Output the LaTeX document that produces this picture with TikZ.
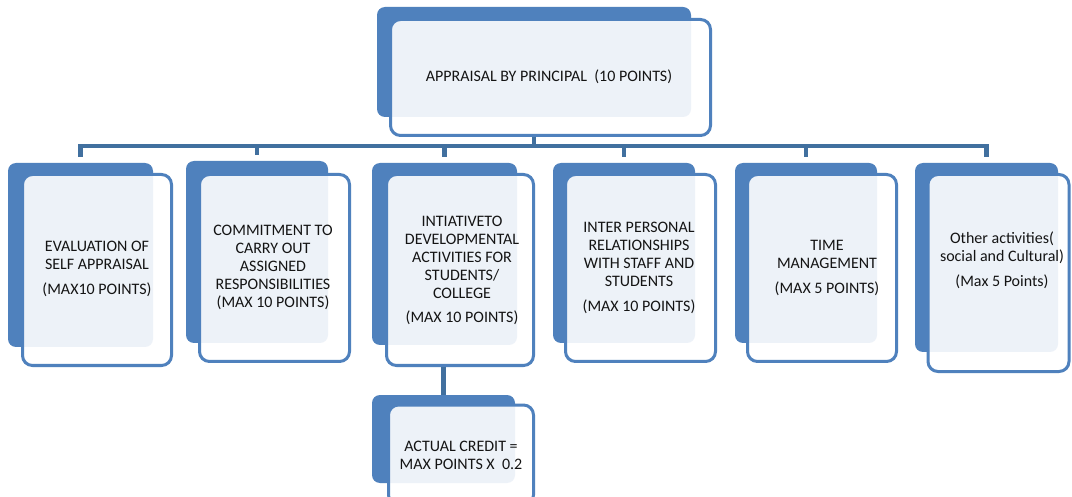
\documentclass[tikz,border=0pt]{standalone}
\usepackage{fontspec}
\setmainfont{Carlito}
\definecolor{boxblue}{HTML}{4F81BD}
\definecolor{connblue}{HTML}{41709F}
\tikzset{
  backbox/.style={fill=boxblue, draw=none, rounded corners=8pt, inner sep=0pt},
  frontbox/.style={draw=boxblue, line width=3pt, fill=white, fill opacity=0.9, rounded corners=10pt, inner sep=0pt},
  lbl/.style={align=center, font=\fontsize{16}{18}\selectfont, text=black!92, inner sep=0pt},
  conn/.style={draw=connblue, line width=4.5pt}
}
\begin{document}
\begin{tikzpicture}[x=1pt,y=-1pt]
\clip (0,0) rectangle (1072,497);
\fill[white] (0,0) rectangle (1072,497);
\coordinate (bus) at (0,146);

% top
\node[backbox, minimum width=314pt, minimum height=110pt] (b0) at (534,62) {};
\node[frontbox, minimum width=320pt, minimum height=116pt] (f0) at (550.5,77.5) {};
\node[lbl] (t0) at (549,77) {APPRAISAL BY PRINCIPAL\ \ (10 POINTS)};

% back boxes
\node[backbox, minimum width=145pt, minimum height=184pt] (b1) at (80.5,255) {};
\node[backbox, minimum width=142pt, minimum height=182pt] (b2) at (257,252) {};
\node[backbox, minimum width=145pt, minimum height=182pt] (b3) at (444.5,254) {};
\node[backbox, minimum width=142pt, minimum height=180pt] (b4) at (624,253) {};
\node[backbox, minimum width=142pt, minimum height=180pt] (b5) at (806,253) {};
\node[backbox, minimum width=143pt, minimum height=189pt] (b6) at (986.5,257.5) {};
\node[backbox, minimum width=143pt, minimum height=88pt] (b7) at (443.5,439) {};

% connectors
\draw[conn] (b0.south |- f0.south) -- (b0.south |- bus);
\draw[conn] ([yshift=6pt]b1.north) -- (b1.north |- bus) -- (b6.north |- bus) -- ([yshift=6pt]b6.north);
\draw[conn] (b2.north |- bus) -- ([yshift=6pt]b2.north);
\draw[conn] (b3.north |- bus) -- ([yshift=6pt]b3.north);
\draw[conn] (b4.north |- bus) -- ([yshift=6pt]b4.north);
\draw[conn] (b5.north |- bus) -- ([yshift=6pt]b5.north);

% front boxes
\node[frontbox, minimum width=149pt, minimum height=191pt] (f1) at (97,270) {};
\node[frontbox, minimum width=150pt, minimum height=187pt] (f2) at (274.5,268) {};
\node[frontbox, minimum width=147pt, minimum height=191pt] (f3) at (460,270) {};
\node[frontbox, minimum width=150pt, minimum height=187pt] (f4) at (640.5,268) {};
\node[frontbox, minimum width=149pt, minimum height=187pt] (f5) at (822,268) {};
\node[frontbox, minimum width=141pt, minimum height=197pt] (f6) at (998.5,273) {};
\draw[conn] (b7.north |- f3.south) -- (b7.north);
\node[frontbox, minimum width=145pt, minimum height=100pt] (f7) at (461,455) {};

% labels
\node[lbl] (t1) at (97,269) {EVALUATION OF\\ SELF APPRAISAL\\[7pt] (MAX10 POINTS)};
\node[lbl] (t2) at (273,267) {COMMITMENT TO\\ CARRY OUT\\ ASSIGNED\\ RESPONSIBILITIES\\ (MAX 10 POINTS)};
\node[lbl] (t3) at (462,270) {INTIATIVETO\\ DEVELOPMENTAL\\ ACTIVITIES FOR\\ STUDENTS/\\ COLLEGE\\[6pt] (MAX 10 POINTS)};
\node[lbl] (t4) at (639,267.5) {INTER PERSONAL\\ RELATIONSHIPS\\ WITH STAFF AND\\ STUDENTS\\[7pt] (MAX 10 POINTS)};
\node[lbl] (t5) at (827,268) {TIME\\ MANAGEMENT\\[7pt] (MAX 5 POINTS)};
\node[lbl] (t6) at (1002,260.5) {Other activities(\\ social and Cultural)\\[7pt] (Max 5 Points)};
\node[lbl] (t7) at (461,455) {ACTUAL CREDIT =\\ MAX POINTS X\ \ 0.2};
\end{tikzpicture}
\end{document}
